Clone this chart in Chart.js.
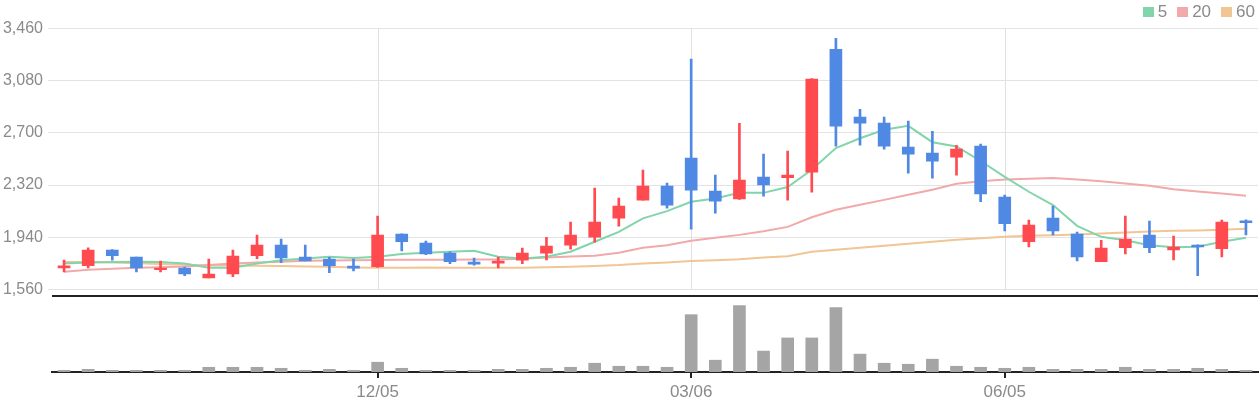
<!DOCTYPE html>
<html><head><meta charset="utf-8">
<script src="https://cdn.jsdelivr.net/npm/chart.js@4"></script>
<style>
html,body{margin:0;padding:0;background:#fff;}
#wrap{position:relative;width:1260px;height:400px;}
#legend{position:absolute;top:2px;right:5px;display:flex;align-items:center;font:17px "Liberation Sans",Arial,sans-serif;line-height:20px;color:#8a8a8a;}
.item{display:flex;align-items:center;margin-left:10px;}
.box{display:inline-block;width:11px;height:10px;margin-right:4px;}
</style></head><body>
<div id="wrap"><canvas id="c" width="1260" height="400"></canvas><div id="legend"></div></div>
<script>
const dates = ['09/05','09/12','09/19','09/26','10/03','10/10','10/17','10/24','10/31','11/07',
  '11/14','11/21','11/28','12/05','12/12','12/19','12/26','01/02','01/09','01/16',
  '01/23','01/30','02/06','02/13','02/20','02/27','03/06','03/13','03/20','03/27',
  '04/03','04/10','04/17','04/24','05/01','05/08','05/15','05/22','05/29','06/05',
  '06/12','06/19','06/26','07/03','07/10','07/17','07/24','07/31','08/07','08/14'];
const tickLabels = ['12/05','03/06','06/05'];
const openP  = [1717,1732,1846,1795,1703,1715,1644,1673,1805,1882,1795,1780,1730,1725,1962,1897,1824,1759,1751,1773,1824,1882,1940,2079,2210,2312,2516,2276,2218,2378,2374,2414,3309,2814,2771,2596,2552,2523,2603,2232,1907,2079,1962,1761,1863,1955,1848,1882,1856,2059];
const highP  = [1773,1863,1850,1795,1766,1722,1780,1846,1955,1926,1882,1793,1780,2093,1965,1911,1834,1788,1795,1860,1940,2050,2297,2225,2428,2334,3237,2392,2770,2545,2567,3095,3389,2872,2814,2785,2712,2610,2618,2246,2064,2166,1977,1918,2093,2057,1948,1885,2064,2067];
const lowP   = [1688,1717,1773,1688,1688,1659,1644,1652,1783,1754,1768,1681,1695,1720,1841,1812,1747,1737,1717,1747,1775,1853,1904,2021,2210,2152,1999,2115,2215,2239,2210,2268,2603,2610,2581,2407,2370,2392,2198,1986,1870,1957,1768,1761,1819,1827,1775,1659,1797,1957];
const closeP = [1732,1846,1805,1717,1715,1673,1671,1802,1882,1790,1768,1732,1715,1955,1907,1819,1761,1744,1766,1824,1875,1955,2050,2166,2312,2174,2283,2203,2356,2320,2392,3091,2749,2771,2603,2545,2494,2581,2256,2038,2028,1986,1797,1860,1926,1863,1868,1870,2050,2045];
const ma5  = [1749,1756,1759,1761,1759,1749,1717,1717,1749,1773,1785,1797,1788,1797,1817,1827,1834,1841,1797,1785,1797,1834,1907,1979,2077,2130,2198,2222,2263,2263,2305,2431,2589,2661,2722,2751,2632,2601,2495,2380,2271,2174,2023,1943,1918,1882,1866,1870,1907,1936];
const ma20 = [1688,1703,1710,1717,1722,1727,1737,1749,1756,1761,1768,1770,1772,1774,1776,1776,1776,1777,1778,1783,1793,1800,1805,1827,1863,1882,1914,1936,1957,1984,2015,2085,2140,2176,2212,2249,2285,2329,2348,2361,2365,2372,2361,2348,2332,2314,2290,2273,2259,2242];
const ma60 = [1759,1759,1756,1751,1744,1739,1734,1734,1732,1730,1727,1725,1720,1717,1717,1720,1717,1717,1717,1717,1722,1725,1730,1737,1749,1756,1766,1773,1780,1793,1802,1834,1848,1863,1877,1892,1907,1921,1933,1943,1950,1955,1960,1967,1975,1982,1987,1989,1994,2001];
const volume = [50000,80000,50000,50000,50000,50000,140000,140000,140000,110000,50000,80000,50000,290000,110000,50000,50000,50000,80000,80000,110000,140000,260000,170000,170000,140000,1700000,350000,1970000,620000,1010000,1010000,1910000,530000,260000,230000,380000,170000,140000,110000,140000,80000,80000,80000,140000,80000,80000,110000,80000,50000];
const priceTicks = [1560,1940,2320,2700,3080,3460];
const maNames = ['5','20','60'];
const maColors = ['#82d5ab','#f2a9a9','#f1c594'];
const UP = '#ff4b50', DOWN = '#5089e4', VOL = '#a5a5a5';
const priceMin = 1511, priceMax = 3460, volMax = 2250000;
const FONT = '"Liberation Sans", Arial, sans-serif';

const candleColors = closeP.map((c,i) => c >= openP[i] ? UP : DOWN);

const legend = document.getElementById('legend');
maNames.forEach((n,i) => {
  const it = document.createElement('span'); it.className='item';
  const b = document.createElement('span'); b.className='box'; b.style.background = maColors[i];
  it.appendChild(b); it.appendChild(document.createTextNode(n)); legend.appendChild(it);
});

const deco = {
  id: 'deco',
  beforeDatasetsDraw(chart) {
    const {ctx, scales: {x, y}} = chart;
    ctx.save(); ctx.strokeStyle = '#e0e0e0'; ctx.lineWidth = 1;
    x.ticks.forEach(t => {
      const px = Math.round(x.getPixelForValue(t.value)) + 0.5;
      ctx.beginPath();
      ctx.moveTo(px, y.getPixelForValue(priceTicks[priceTicks.length-1]));
      ctx.lineTo(px, y.getPixelForValue(priceTicks[0]));
      ctx.stroke();
    });
    ctx.restore();
  },
  afterDatasetsDraw(chart) {
    const {ctx, chartArea, scales: {y}} = chart;
    ctx.save(); ctx.strokeStyle = '#222'; ctx.lineWidth = 2;
    ctx.beginPath(); ctx.moveTo(chartArea.left, y.bottom); ctx.lineTo(chartArea.right, y.bottom); ctx.stroke();
    ctx.restore();
  }
};

new Chart(document.getElementById('c'), {
  type: 'bar',
  data: {
    labels: dates,
    datasets: [
      {type:'bar', data: dates.map((d,i)=>[openP[i], closeP[i]]), backgroundColor: candleColors, barThickness: 12, grouped: false, yAxisID: 'y', order: 0},
      {type:'bar', data: dates.map((d,i)=>[lowP[i], highP[i]]), backgroundColor: candleColors, barThickness: 2, grouped: false, yAxisID: 'y', order: 1},
      {type:'line', data: ma60, borderColor: maColors[2], borderWidth: 2, pointRadius: 0, tension: 0, yAxisID: 'y', order: 4},
      {type:'line', data: ma20, borderColor: maColors[1], borderWidth: 2, pointRadius: 0, tension: 0, yAxisID: 'y', order: 3},
      {type:'line', data: ma5, borderColor: maColors[0], borderWidth: 2, pointRadius: 0, tension: 0, yAxisID: 'y', order: 2},
      {type:'bar', data: volume, backgroundColor: VOL, barThickness: 12, grouped: false, yAxisID: 'yv', order: 5}
    ]
  },
  options: {
    responsive: false, animation: false,
    layout: {padding: {top: 28.5, right: 2, left: 0, bottom: 0}},
    plugins: {legend: {display: false}, tooltip: {enabled: false}},
    scales: {
      x: {
        type: 'category', offset: true,
        grid: {display: true, drawOnChartArea: false, drawTicks: true, tickLength: 6, color: '#222', lineWidth: 2, offset: false},
        border: {display: true, color: '#222', width: 2},
        ticks: {autoSkip: false, maxRotation: 0, padding: 4, color: '#8a8a8a', font: {family: FONT, size: 17}},
        afterBuildTicks: s => { s.ticks = s.ticks.filter(t => tickLabels.includes(dates[t.value])); },
        afterFit: s => { s.height = 28; }
      },
      yv: {
        position: 'left', stack: 'p', stackWeight: 76, min: 0, max: volMax,
        grid: {display: false}, border: {display: false}, ticks: {display: false},
        afterFit: s => { s.width = 52; }
      },
      y: {
        position: 'left', stack: 'p', stackWeight: 268, min: priceMin, max: priceMax,
        afterBuildTicks: s => { s.ticks = priceTicks.map(v => ({value: v})); },
        grid: {color: '#e3e3e3', tickLength: 4, lineWidth: 1},
        border: {display: false},
        ticks: {padding: 5, color: '#8a8a8a', font: {family: FONT, size: 16}, callback: v => v.toLocaleString('en-US')},
        afterFit: s => { s.width = 52; }
      }
    }
  },
  plugins: [deco]
});
</script>
</body></html>
